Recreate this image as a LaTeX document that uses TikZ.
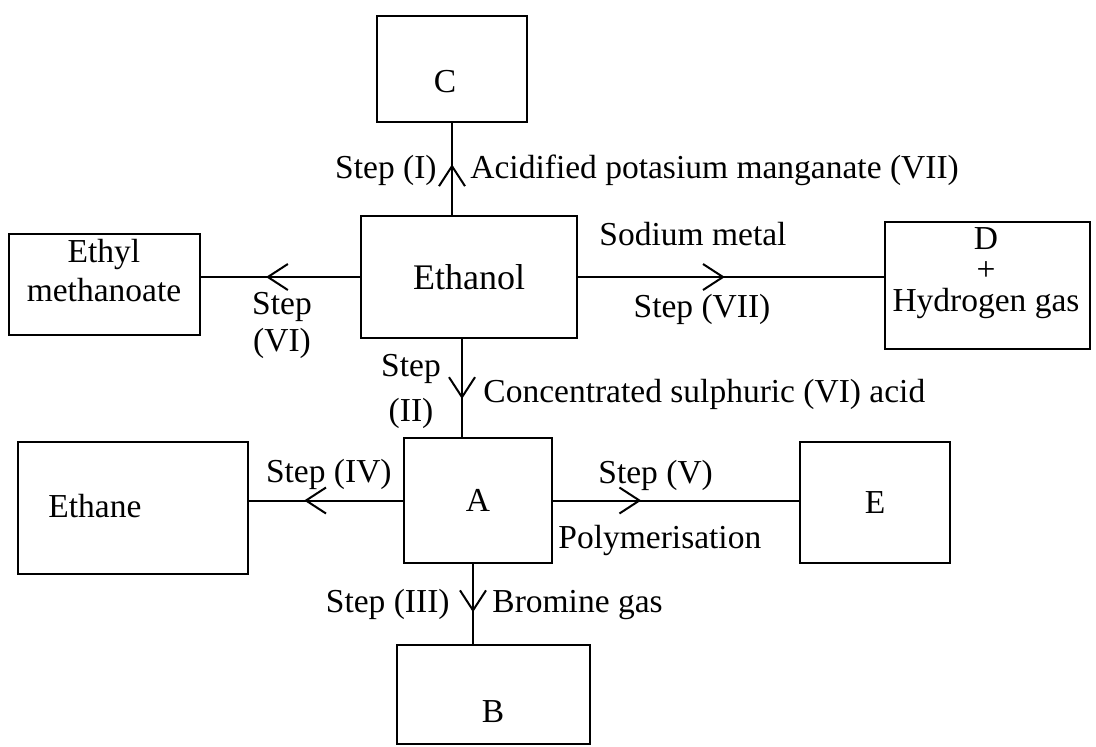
\documentclass[tikz,border=0pt]{standalone}
\usepackage{fontspec}
\setmainfont{Liberation Serif}
\usetikzlibrary{arrows.meta, decorations.markings}

\begin{document}
\begin{tikzpicture}[
    x=0.5pt, y=-0.5pt,
    every node/.style={font=\fontsize{16.75}{19}\selectfont, inner sep=0pt},
    box/.style={draw, line width=1pt, outer sep=0pt},
    lbl/.style={align=center, font=\fontsize{16.75}{#1}\selectfont},
    flow/.style={line width=1pt},
    midarrow/.style={postaction={decorate}, decoration={markings,
      mark=at position #1 with {\arrow{Straight Barb[length=10pt, width=13pt]}}}}
  ]
  \useasboundingbox (0,0) rectangle (1096,746);

  % boxes
  \node[box, minimum width=108pt, minimum height=61pt, font=\fontsize{18}{21}\selectfont] (eth) at (469,277) {Ethanol};
  \node[box, minimum width=75pt, minimum height=53pt] (C) at (452,69) {};
  \node[box, minimum width=95.5pt, minimum height=50.5pt] (ethyl) at (104.5,284.5) {};
  \node[box, minimum width=102.5pt, minimum height=63.5pt] (D) at (987.5,285.5) {};
  \node[box, minimum width=74pt, minimum height=62.5pt] (A) at (478,500.5) {A};
  \node[box, minimum width=115pt, minimum height=66pt] (ethane) at (133,508) {};
  \node[box, minimum width=75pt, minimum height=60.5pt] (E) at (875,502.5) {E};
  \node[box, minimum width=96.5pt, minimum height=49.5pt] (B) at (493.5,694.5) {};

  % box texts
  \node (Ctxt) [anchor=base] at (445,92) {C};
  \node[lbl=19.5] (ethyltxt) at (104,271) {Ethyl\\methanoate};
  \node[lbl=15.5] (Dtxt) at (986,273.5) {D\\+\\Hydrogen gas};
  \node (ethanetxt) [anchor=base west] at (48,517) {Ethane};
  \node (Btxt) [anchor=base] at (493,722) {B};

  % connectors
  \coordinate (ethS) at ([xshift=-3.5pt]eth.south);
  \coordinate (AS) at ([xshift=-2.5pt]A.south);
  \draw[flow, midarrow=0.55] (C.south |- eth.north) -- (C.south);
  \draw[flow, midarrow=0.59] (eth.west) -- (eth.west -| ethyl.east);
  \draw[flow, midarrow=0.48] (eth.east) -- (eth.east -| D.west);
  \draw[flow, midarrow=0.61] (ethS) -- (ethS |- A.north);
  \draw[flow, midarrow=0.64] (A.west) -- (A.west -| ethane.east);
  \draw[flow, midarrow=0.36] (A.east) -- (A.east -| E.west);
  \draw[flow, midarrow=0.6] (AS) -- (AS |- B.north);

  % labels
  \node (s1) [anchor=base east] at (437,178) {Step (I)};
  \node (r1) [anchor=base west] at (470,178) {Acidified potasium manganate (VII)};
  \node[lbl=18.5] (s6) at (282,325.4) {Step\\(VI)};
  \node (r7) [anchor=base] at (693,245) {Sodium metal};
  \node (s7) [anchor=base] at (702,317) {Step (VII)};
  \node[lbl=22.5] (s2) at (411,391.3) {Step\\(II)};
  \node (r2) [anchor=base west] at (483,402) {Concentrated sulphuric (VI) acid};
  \node (s4) [anchor=base east] at (392,482) {Step (IV)};
  \node (s5) [anchor=base west] at (598,483) {Step (V)};
  \node (r5) [anchor=base west] at (558,548) {Polymerisation};
  \node (s3) [anchor=base east] at (450,612) {Step (III)};
  \node (r3) [anchor=base west] at (492,612) {Bromine gas};
\end{tikzpicture}
\end{document}
